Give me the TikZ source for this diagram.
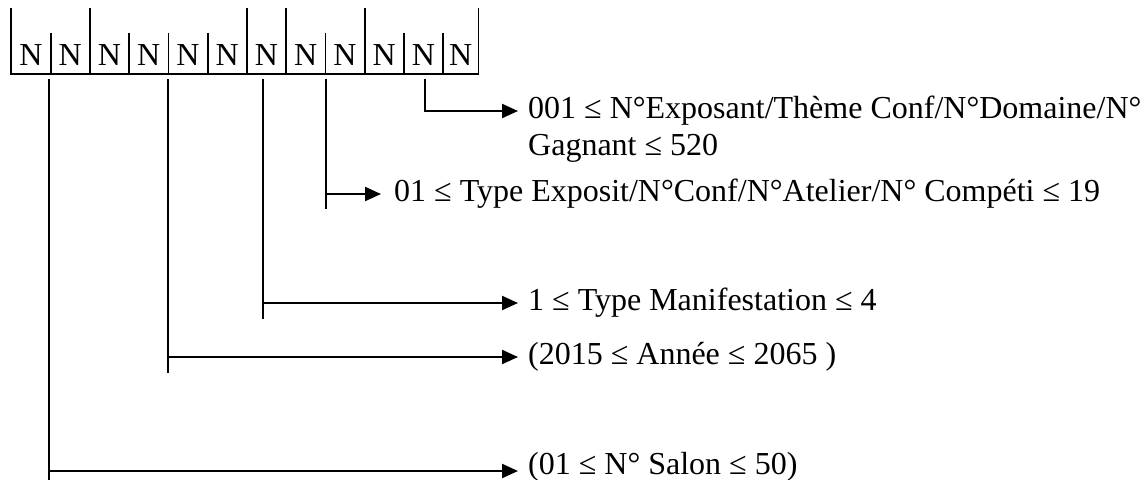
\documentclass[tikz,border=0pt]{standalone}
\usepackage{fontspec}
\setmainfont{Liberation Serif}
\usetikzlibrary{arrows.meta}
\begin{document}
\begin{tikzpicture}[x=1pt,y=-1pt,
  big/.style={font=\fontsize{32}{37}\selectfont},
  cell/.style={big, anchor=south west, inner sep=0pt, minimum width=39.27pt,
               text height=33pt, text depth=8pt},
  frame/.style={line width=1.8pt},
  conn/.style={line width=2pt},
  arr/.style={line width=2.2pt, -{Triangle[length=16pt,width=14pt]}},
  lbl/.style={big, anchor=base west, inner sep=0pt, align=left}]
\useasboundingbox (0,0) rectangle (1147,479);

% the twelve digit cells
\foreach \i in {1,...,11}
  \node[cell] (n\i) at ({11+(\i-1)*39.27},74) {N};
\node[cell, minimum width=35pt] (n12) at (443,74) {N};

% outer frame with tall end posts
\draw[frame] ([yshift=25pt]n1.north west) -- (n1.south west) -- (n12.south east)
             -- ([yshift=25pt]n12.north east);
% short separators
\foreach \i in {1,3,4,5,8,10,11}
  \draw[frame] (n\i.north east) -- (n\i.south east);
% tall separators between field groups
\foreach \i in {2,6,7,9}
  \draw[frame] ([yshift=25pt]n\i.north east) -- (n\i.south east);

% field descriptions (base of the two-line text is its last line)
\node[lbl] (tG) at (528,155) {001 ≤ N°Exposant/Thème Conf/N°Domaine/N°\\Gagnant ≤ 520};
\node[lbl] (tE) at (394,201) {01 ≤ Type Exposit/N°Conf/N°Atelier/N° Compéti ≤ 19};
\node[lbl] (tM) at (528,310) {1 ≤ Type Manifestation ≤ 4};
\node[lbl] (tA) at (528,364) {(2015 ≤ Année ≤ 2065 )};
\node[lbl] (tS) at (528,474) {(01 ≤ N° Salon ≤ 50)};

% arrow end points in front of each description
\coordinate (aG) at ([xshift=-10pt,yshift=44pt]tG.base west);
\coordinate (aE) at ([xshift=-13pt,yshift=7pt]tE.base west);
\coordinate (aM) at ([xshift=-10pt,yshift=7pt]tM.base west);
\coordinate (aA) at ([xshift=-10pt,yshift=7pt]tA.base west);
\coordinate (aS) at ([xshift=-10pt,yshift=3pt]tS.base west);

% leader lines from the cells
\draw[conn] ([xshift=1pt,yshift=-5pt]n11.south) coordinate (g0) -- (g0 |- aG);
\draw[arr] ([xshift=-1pt]g0 |- aG) -- (aG);

\draw[conn] ([yshift=-5pt]n8.south east) coordinate (e0) -- ++(0,130);
\draw[arr] (e0 |- aE) -- (aE);

\draw[conn] ([xshift=-3pt,yshift=-5pt]n7.south) coordinate (m0) -- ++(0,240);
\draw[arr] (m0 |- aM) -- (aM);

\draw[conn] ([yshift=-5pt]n4.south east) coordinate (y0) -- ++(0,294);
\draw[arr] (y0 |- aA) -- (aA);

\draw[conn] ([xshift=-2pt,yshift=-5pt]n1.south east) coordinate (s0) -- ++(0,410);
\draw[arr] (s0 |- aS) -- (aS);
\end{tikzpicture}
\end{document}
